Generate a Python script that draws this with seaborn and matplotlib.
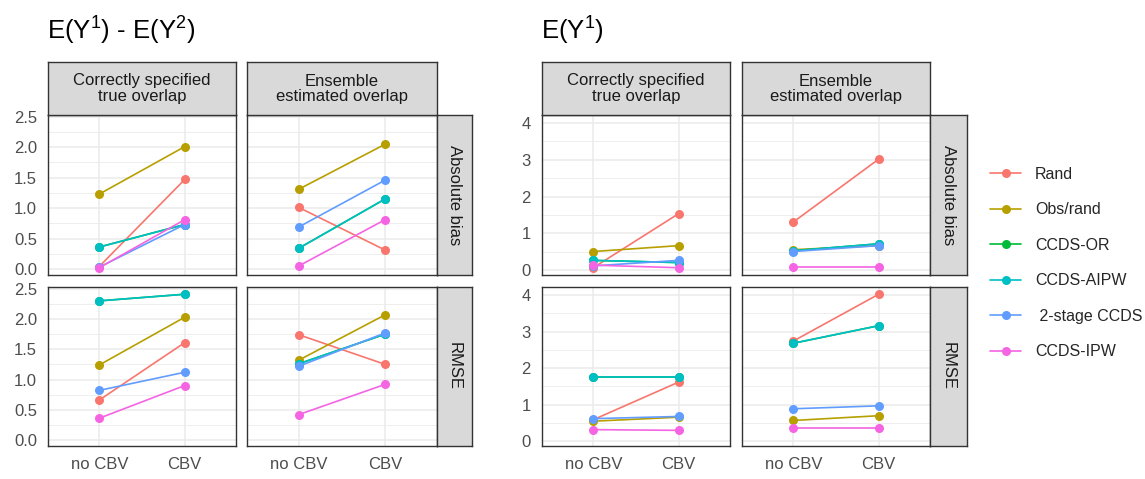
import numpy as np
import pandas as pd
import matplotlib
matplotlib.use("Agg")
import matplotlib.pyplot as plt
import seaborn as sns
from matplotlib.lines import Line2D
from matplotlib.ticker import MultipleLocator

# ---------------- data ----------------
methods = ["Rand", "Obs/rand", "CCDS-OR", "CCDS-AIPW", " 2-stage CCDS", "CCDS-IPW"]
colors = ["#F8766D", "#B79F00", "#00BA38", "#00BFC4", "#619CFF", "#F564E3"]
cbv_levels = ["no CBV", "CBV"]
overlaps = ["Correctly specified\ntrue overlap", "Ensemble\nestimated overlap"]
metrics = ["Absolute bias", "RMSE"]
titles = [r"E(Y$^1$) - E(Y$^2$)", r"E(Y$^1$)"]

# E(Y1) - E(Y2)
diff_bias_true_nocbv = [0.04, 1.23, 0.36, 0.36, 0.03, 0.02]
diff_bias_true_cbv = [1.47, 2.01, 0.73, 0.73, 0.73, 0.81]
diff_bias_ens_nocbv = [1.01, 1.31, 0.34, 0.34, 0.69, 0.05]
diff_bias_ens_cbv = [0.31, 2.05, 1.15, 1.15, 1.46, 0.81]
diff_rmse_true_nocbv = [0.66, 1.24, 2.30, 2.30, 0.82, 0.36]
diff_rmse_true_cbv = [1.61, 2.03, 2.41, 2.41, 1.12, 0.90]
diff_rmse_ens_nocbv = [1.74, 1.32, 1.26, 1.26, 1.22, 0.42]
diff_rmse_ens_cbv = [1.25, 2.07, 1.75, 1.75, 1.77, 0.92]

# E(Y1)
y1_bias_true_nocbv = [0.07, 0.51, 0.27, 0.27, 0.12, 0.14]
y1_bias_true_cbv = [1.54, 0.67, 0.21, 0.21, 0.27, 0.07]
y1_bias_ens_nocbv = [1.31, 0.56, 0.53, 0.53, 0.51, 0.10]
y1_bias_ens_cbv = [3.02, 0.67, 0.72, 0.72, 0.67, 0.10]
y1_rmse_true_nocbv = [0.59, 0.55, 1.76, 1.76, 0.62, 0.32]
y1_rmse_true_cbv = [1.62, 0.66, 1.76, 1.76, 0.68, 0.30]
y1_rmse_ens_nocbv = [2.74, 0.57, 2.68, 2.68, 0.89, 0.36]
y1_rmse_ens_cbv = [4.02, 0.70, 3.16, 3.16, 0.97, 0.36]

panels = {
    (0, 0, 0): (diff_bias_true_nocbv, diff_bias_true_cbv),
    (0, 0, 1): (diff_bias_ens_nocbv, diff_bias_ens_cbv),
    (0, 1, 0): (diff_rmse_true_nocbv, diff_rmse_true_cbv),
    (0, 1, 1): (diff_rmse_ens_nocbv, diff_rmse_ens_cbv),
    (1, 0, 0): (y1_bias_true_nocbv, y1_bias_true_cbv),
    (1, 0, 1): (y1_bias_ens_nocbv, y1_bias_ens_cbv),
    (1, 1, 0): (y1_rmse_true_nocbv, y1_rmse_true_cbv),
    (1, 1, 1): (y1_rmse_ens_nocbv, y1_rmse_ens_cbv),
}

rows = []
for (est, mi, oi), (v0, v1) in panels.items():
    for k, m in enumerate(methods):
        rows.append(dict(est=est, metric=metrics[mi], overlap=overlaps[oi], method=m,
                         cbv=cbv_levels[0], xpos=0, value=v0[k]))
        rows.append(dict(est=est, metric=metrics[mi], overlap=overlaps[oi], method=m,
                         cbv=cbv_levels[1], xpos=1, value=v1[k]))
df = pd.DataFrame(rows)

# ---------------- style ----------------
sns.set_theme(style="white")
plt.rcParams["font.family"] = ["Liberation Sans", "DejaVu Sans"]
plt.rcParams["mathtext.fontset"] = "custom"
plt.rcParams["mathtext.rm"] = "Liberation Sans"
plt.rcParams["mathtext.it"] = "Liberation Sans:italic"

W, H = 1145, 479
fig = plt.figure(figsize=(W / 100, H / 100), dpi=100)
fig.patch.set_facecolor("white")


def box(x0, y0, x1, y1):
    return [x0 / W, 1 - y1 / H, (x1 - x0) / W, (y1 - y0) / H]


BORDER = "#333333"
STRIP = "#D9D9D9"
GRID = "#EBEBEB"

col_x = [[(48, 236), (247, 437)], [(542, 730), (742, 930)]]
right_strip_x = [(437, 472), (930, 967)]
row_y = [(115, 275), (287, 446)]
top_strip_y = (62, 115)
title_x = [47, 541]

for est in range(2):
    sub_est = df[df.est == est]
    lo, hi = sub_est.value.min(), sub_est.value.max()
    pad = 0.05 * (hi - lo)
    ylim = (lo - pad, hi + pad)
    major = 0.5 if est == 0 else 1.0
    top_tick = 2.5 if est == 0 else 4.0
    for mi, metric in enumerate(metrics):
        for oi, ov in enumerate(overlaps):
            x0, x1 = col_x[est][oi]
            y0, y1 = row_y[mi]
            ax = fig.add_axes(box(x0, y0, x1, y1))
            sub = sub_est[(sub_est.metric == metric) & (sub_est.overlap == ov)]
            sns.lineplot(data=sub, x="xpos", y="value", hue="method", hue_order=methods,
                         palette=colors, marker="o", markersize=6.5, markeredgewidth=0,
                         linewidth=1.2, legend=False, ax=ax, estimator=None, sort=False)
            ax.set_xlim(-0.6, 1.6)
            ax.set_ylim(*ylim)
            ax.set_xticks([0, 1])
            ax.set_yticks(np.arange(0, top_tick + 1e-9, major))
            ax.yaxis.set_minor_locator(MultipleLocator(major / 2))
            ax.grid(which="major", color=GRID, lw=1.1)
            ax.grid(which="minor", axis="y", color=GRID, lw=0.6)
            ax.set_axisbelow(True)
            ax.set_xlabel("")
            ax.set_ylabel("")
            for s in ax.spines.values():
                s.set_color(BORDER)
                s.set_linewidth(1.0)
            ax.tick_params(which="major", length=5, width=0.8, color=BORDER,
                           labelsize=12, labelcolor="#4D4D4D", pad=3)
            ax.tick_params(which="minor", length=0)
            if mi == 1:
                ax.set_xticklabels(cbv_levels)
            else:
                ax.tick_params(axis="x", labelbottom=False, length=0)
            if oi == 0:
                ax.set_yticklabels([f"{t:.1f}" if est == 0 else f"{t:.0f}"
                                    for t in ax.get_yticks()])
            else:
                ax.tick_params(axis="y", labelleft=False, length=0)

            # top strip
            if mi == 0:
                sx = fig.add_axes(box(x0, top_strip_y[0], x1, top_strip_y[1]))
                sx.set_facecolor(STRIP)
                sx.set_xticks([]); sx.set_yticks([])
                for s in sx.spines.values():
                    s.set_color(BORDER); s.set_linewidth(1.0)
                sx.text(0.5, 0.5, ov, ha="center", va="center", fontsize=12,
                        color="#1A1A1A", linespacing=1.0, transform=sx.transAxes)
            # right strip
            if oi == 1:
                rx0, rx1 = right_strip_x[est]
                sy = fig.add_axes(box(rx0, y0, rx1, y1))
                sy.set_facecolor(STRIP)
                sy.set_xticks([]); sy.set_yticks([])
                for s in sy.spines.values():
                    s.set_color(BORDER); s.set_linewidth(1.0)
                sy.text(0.5, 0.5, metric, ha="center", va="center", fontsize=12,
                        color="#1A1A1A", rotation=-90, transform=sy.transAxes)

    fig.text(title_x[est] / W, 1 - 31 / H, titles[est], fontsize=18.5, color="black",
             ha="left", va="center")

handles = [Line2D([], [], color=c, marker="o", markersize=6.5, markeredgewidth=0, lw=1.2)
           for c in colors]
fig.legend(handles, methods, loc="center left", bbox_to_anchor=(984 / W, 1 - 263 / H),
           frameon=False, fontsize=11.5, labelspacing=1.28, handlelength=1.9,
           handletextpad=0.9, borderaxespad=0)

fig.savefig("out.png", dpi=100, facecolor="white")
